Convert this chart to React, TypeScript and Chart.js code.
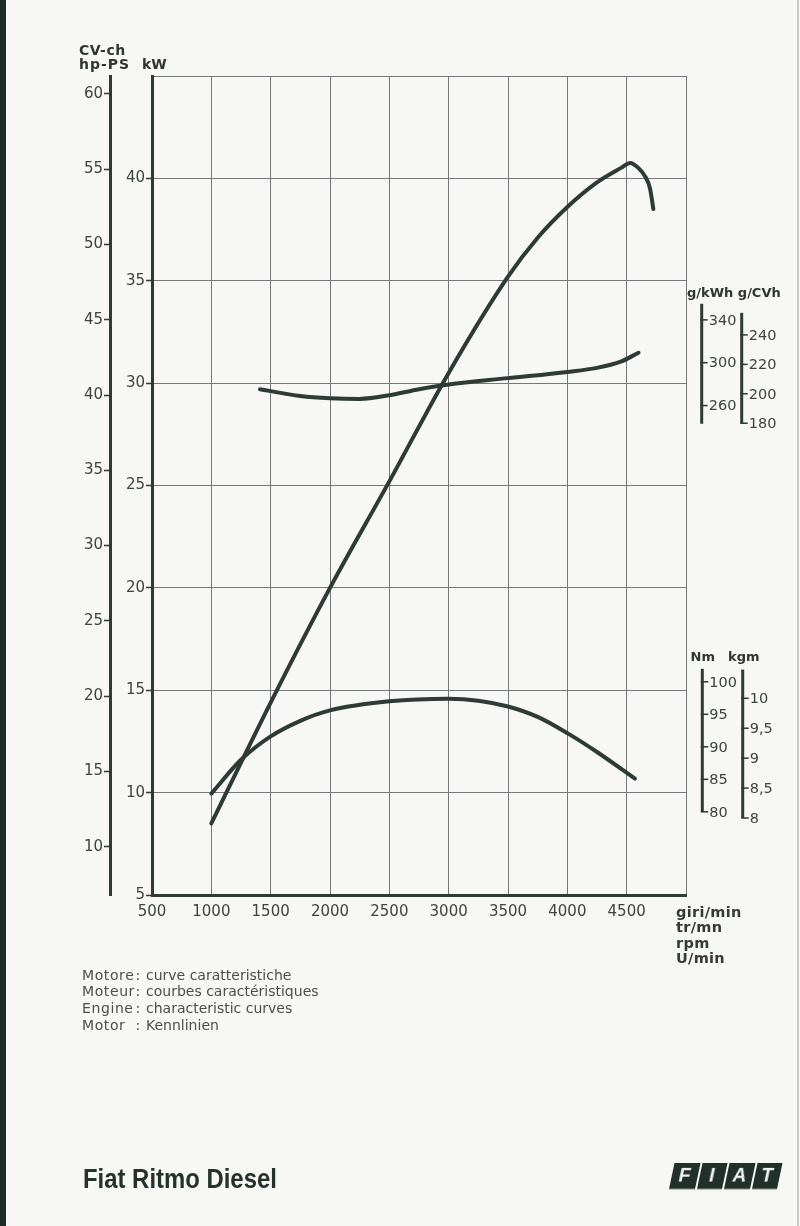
import React, { useEffect, useRef } from "react";
import { Chart, registerables } from "chart.js";

Chart.register(...registerables);

// ---------------- data ----------------
const rpmTicks = [500, 1000, 1500, 2000, 2500, 3000, 3500, 4000, 4500, 5000];
const kwTicks = [5, 10, 15, 20, 25, 30, 35, 40, 45];
const cvTicks = [10, 15, 20, 25, 30, 35, 40, 45, 50, 55, 60];
const gkwhTicks = [260, 300, 340];
const gcvhTicks = [180, 200, 220, 240];
const nmTicks = [80, 85, 90, 95, 100];
const kgmTicks = [8, 8.5, 9, 9.5, 10];

// Power (kW)
const powerRpm = [1000, 1500, 2000, 2500, 3000, 3500, 3750, 4000, 4250, 4450, 4530, 4600, 4655, 4697, 4725];
const powerKw = [8.5, 14.4, 20.0, 25.2, 30.5, 35.2, 37.1, 38.6, 39.8, 40.5, 40.75, 40.5, 40.1, 39.5, 38.5];

// Torque (Nm)
const torqueRpm = [1000, 1250, 1500, 1750, 2000, 2500, 3000, 3250, 3500, 3750, 4000, 4250, 4570];
const torqueNm = [82.8, 88.0, 91.6, 94.0, 95.6, 97.0, 97.4, 97.1, 96.2, 94.6, 92.1, 89.2, 85.1];

// Specific consumption (g/kWh)
const consRpm = [1410, 1750, 2000, 2250, 2500, 2750, 3000, 3500, 4000, 4250, 4450, 4600];
const consGkwh = [275.2, 268.9, 266.8, 266.2, 269.6, 275.3, 279.7, 285.6, 291.4, 295.2, 301.0, 309.3];

const KW_PER_CV = 0.7355;

// ---------------- styles ----------------
const PAGE = "#f7f7f5";
const DARK = "#2d3a36";
const GRID = "#75787a";
const TEXT = "#3d4441";
const FONT = '"DejaVu Sans", "Liberation Sans", sans-serif';

const pts = (xs: number[], ys: number[]) => xs.map((x, i) => ({ x, y: ys[i] }));
const asTicks = (vals: number[]) => vals.map((v) => ({ value: v }));
const comma = (v: number) => String(v).replace(".", ",");

const SIDE_AXES = [
  { id: "gkwh", ticks: gkwhTicks, top: 355, bottom: 243, offset: 15.7, fmt: String },
  { id: "gcvh", ticks: gcvhTicks, top: 255, bottom: 180, offset: 55.7, fmt: String },
  { id: "nm", ticks: nmTicks, top: 102, bottom: 80, offset: 16.3, fmt: String },
  { id: "kgm", ticks: kgmTicks, top: 10.48, bottom: 8, offset: 56.7, fmt: comma },
];

const sideAxisPlugin = {
  id: "sideAxes",
  afterDraw(chart: any) {
    const { ctx, chartArea } = chart;
    ctx.save();
    for (const a of SIDE_AXES) {
      const s = chart.scales[a.id];
      const x = chartArea.right + a.offset;
      const yTop = s.getPixelForValue(a.top);
      const yBot = s.getPixelForValue(a.bottom);
      ctx.strokeStyle = DARK;
      ctx.lineWidth = 3;
      ctx.lineCap = "butt";
      ctx.beginPath();
      ctx.moveTo(x, yTop);
      ctx.lineTo(x, yBot);
      ctx.stroke();
      ctx.lineWidth = 1.5;
      ctx.font = `14.5px ${FONT}`;
      ctx.fillStyle = TEXT;
      ctx.textAlign = "left";
      ctx.textBaseline = "middle";
      for (const t of a.ticks) {
        const y = s.getPixelForValue(t);
        ctx.beginPath();
        ctx.moveTo(x - 1.5, y);
        ctx.lineTo(x + 6, y);
        ctx.stroke();
        ctx.fillText(a.fmt(t), x + 7, y + 1);
      }
    }
    ctx.restore();
  },
};

function makeConfig(): any {
  const tickFont = { family: FONT, size: 15 };
  return {
    type: "line",
    data: {
      datasets: [
        { label: "kW", data: pts(powerRpm, powerKw), yAxisID: "kw" },
        { label: "Nm", data: pts(torqueRpm, torqueNm), yAxisID: "nm" },
        { label: "g/kWh", data: pts(consRpm, consGkwh), yAxisID: "gkwh" },
      ],
    },
    options: {
      responsive: false,
      maintainAspectRatio: false,
      animation: false,
      events: [],
      layout: { padding: { left: 60, top: 76, right: 114, bottom: 291 } },
      plugins: { legend: { display: false }, tooltip: { enabled: false }, title: { display: false } },
      elements: {
        point: { radius: 0 },
        line: {
          borderWidth: 4,
          borderColor: DARK,
          cubicInterpolationMode: "monotone",
          borderCapStyle: "round",
          borderJoinStyle: "round",
          fill: false,
        },
      },
      scales: {
        x: {
          type: "linear",
          position: "bottom",
          min: 500,
          max: 5000,
          afterBuildTicks: (s: any) => { s.ticks = asTicks(rpmTicks); },
          afterFit: (s: any) => { s.height = 40; },
          ticks: {
            autoSkip: false,
            maxRotation: 0,
            padding: 8,
            color: TEXT,
            font: tickFont,
            callback: (v: number) => (v === 5000 ? "" : String(v)),
          },
          grid: {
            drawTicks: false,
            lineWidth: 1,
            color: (c: any) => (c.tick && c.tick.value === 500 ? "rgba(0,0,0,0)" : GRID),
          },
          border: { color: DARK, width: 3 },
        },
        kw: {
          type: "linear",
          axis: "y",
          position: "left",
          weight: 0,
          min: 5,
          max: 45,
          afterBuildTicks: (s: any) => { s.ticks = asTicks(kwTicks); },
          afterFit: (s: any) => { s.width = 42; },
          ticks: {
            padding: 1,
            color: TEXT,
            font: tickFont,
            callback: (v: number) => (v === 45 ? "" : String(v)),
          },
          grid: {
            lineWidth: 1,
            tickLength: 6,
            tickWidth: 1.5,
            color: (c: any) => (c.tick && c.tick.value === 5 ? "rgba(0,0,0,0)" : GRID),
            tickColor: (c: any) => (c.tick && c.tick.value === 45 ? "rgba(0,0,0,0)" : DARK),
          },
          border: { color: DARK, width: 3 },
        },
        cv: {
          type: "linear",
          axis: "y",
          position: "left",
          weight: 1,
          min: 5 / KW_PER_CV,
          max: 45 / KW_PER_CV,
          afterBuildTicks: (s: any) => { s.ticks = asTicks(cvTicks); },
          afterFit: (s: any) => { s.width = 50; },
          ticks: { padding: 1, color: TEXT, font: tickFont, callback: (v: number) => String(v) },
          grid: { drawOnChartArea: false, tickLength: 6, tickWidth: 1.5, tickColor: DARK },
          border: { color: DARK, width: 3 },
        },
        nm: { type: "linear", axis: "y", position: "right", display: false, min: 67.2, max: 193.2 },
        kgm: { type: "linear", axis: "y", position: "right", display: false, min: 6.713, max: 20.4 },
        gkwh: { type: "linear", axis: "y", position: "right", display: false, min: -197.0, max: 567.7 },
        gcvh: { type: "linear", axis: "y", position: "right", display: false, min: -140.5, max: 415.9 },
      },
    },
    plugins: [sideAxisPlugin],
  };
}

const abs = (left: number, top: number, extra: React.CSSProperties = {}): React.CSSProperties => ({
  position: "absolute",
  left,
  top,
  whiteSpace: "nowrap",
  ...extra,
});

const captionRows = [
  ["Motore", "curve caratteristiche"],
  ["Moteur", "courbes caractéristiques"],
  ["Engine", "characteristic curves"],
  ["Motor", "Kennlinien"],
];

const unitRows = ["giri/min", "tr/mn", "rpm", "U/min"];
const logoLetters = ["F", "I", "A", "T"];

export default function App() {
  const ref = useRef<HTMLCanvasElement>(null);
  useEffect(() => {
    const chart = new Chart(ref.current as HTMLCanvasElement, makeConfig());
    return () => chart.destroy();
  }, []);

  const bold13: React.CSSProperties = { fontSize: 13, fontWeight: 700, lineHeight: "16px", color: "#2f3633" };
  const bold14: React.CSSProperties = { fontSize: 14, fontWeight: 700, lineHeight: "16px", color: "#2f3633" };

  return (
    <div
      style={{
        position: "absolute",
        left: 0,
        top: 0,
        width: 800,
        height: 1226,
        overflow: "hidden",
        background: PAGE,
        fontFamily: FONT,
      }}
    >
      <div style={abs(0, 0, { width: 6, height: 1226, background: "#1f2b28" })} />
      <div style={abs(797, 0, { width: 2, height: 1226, background: "#c9cbc8" })} />
      <canvas ref={ref} width={800} height={1226} style={{ position: "absolute", left: 0, top: 0 }} />

      {/* left axis titles */}
      <div style={abs(79, 41.5, { ...bold14, letterSpacing: 0.5 })}>CV-ch</div>
      <div style={abs(79, 55.5, { ...bold14, letterSpacing: 1 })}>hp-PS</div>
      <div style={abs(142, 55.5, bold14)}>kW</div>

      {/* right axis titles */}
      <div style={abs(687, 285, bold13)}>g/kWh g/CVh</div>
      <div style={abs(690.5, 648.5, bold13)}>Nm</div>
      <div style={abs(728, 648.5, bold13)}>kgm</div>

      {/* x unit labels */}
      {unitRows.map((t, i) => (
        <div
          key={t}
          style={abs(676, 903.5 + i * 15.5, {
            fontSize: 14.5,
            fontWeight: 700,
            lineHeight: "16px",
            letterSpacing: 0.3,
            color: "#333a37",
          })}
        >
          {t}
        </div>
      ))}

      {/* caption */}
      {captionRows.map(([a, b], i) => (
        <div key={a} style={abs(0, 966.5 + i * 16.7, { fontSize: 14, lineHeight: "16.7px", color: "#4a4f4d" })}>
          <span style={abs(82, 0, { letterSpacing: 0.6 })}>{a}</span>
          <span style={abs(135.5, 0)}>:</span>
          <span style={abs(146, 0)}>{b}</span>
        </div>
      ))}

      {/* title */}
      <div
        style={abs(83, 1163, {
          fontFamily: '"Liberation Sans", Arial, sans-serif',
          fontSize: 27,
          fontWeight: 700,
          lineHeight: "32px",
          color: "#24312d",
          transform: "scaleX(0.885)",
          transformOrigin: "0 0",
        })}
      >
        Fiat Ritmo Diesel
      </div>

      {/* FIAT logo */}
      <div style={abs(669, 1163, { display: "flex", transform: "skewX(-12deg)", transformOrigin: "0 100%" })}>
        {logoLetters.map((l, i) => (
          <div
            key={l}
            style={{
              width: 25.5,
              height: 26,
              marginRight: i < 3 ? 2 : 0,
              background: "#22302c",
              color: "#f4f4f2",
              fontFamily: '"Liberation Sans", Arial, sans-serif',
              fontWeight: 700,
              fontSize: 19,
              lineHeight: "26px",
              textAlign: "center",
            }}
          >
            {l}
          </div>
        ))}
      </div>
    </div>
  );
}
